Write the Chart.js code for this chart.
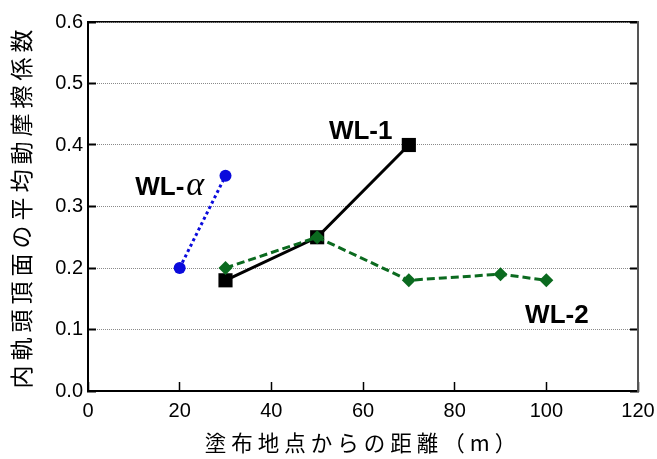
<!DOCTYPE html>
<html>
<head>
<meta charset="utf-8">
<script src="https://cdn.jsdelivr.net/npm/chart.js@4"></script>
<style>
  html, body { margin: 0; padding: 0; background: #fff; }
  canvas { display: block; }
</style>
</head>
<body>
<canvas id="frictionChart" width="657" height="459"></canvas>
<script>
// データ
const distWL2 = [30, 50, 70, 90, 100];
const muWL2 = [0.20, 0.25, 0.18, 0.19, 0.18];

const distWL1 = [30, 50, 70];
const muWL1 = [0.18, 0.25, 0.40];

const distWLa = [20, 30];
const muWLa = [0.20, 0.35];

const yTicks = [0.0, 0.1, 0.2, 0.3, 0.4, 0.5, 0.6];
const xTicks = [0, 20, 40, 60, 80, 100, 120];

// 系列名ラベルの位置（データ座標）
const seriesLabels = [
    { text: 'WL-1', x: 59.5, y: 0.409 },
    { text: 'WL-2', x: 102.3, y: 0.110 },
    { text: 'WL-', greek: 'α', x: 10.3, y: 0.319 }
];

function toPoints(xs, ys) {
    return xs.map(function(x, i) { return { x: x, y: ys[i] }; });
}

// 軸タイトルの字間
const titleSpacing = {
    id: 'titleSpacing',
    beforeDraw(chart) { chart.ctx.letterSpacing = '5px'; },
    beforeDatasetsDraw(chart) { chart.ctx.letterSpacing = '0px'; }
};

// 系列名ラベル
const seriesLabelPlugin = {
    id: 'seriesLabels',
    afterDatasetsDraw(chart) {
        const ctx = chart.ctx;
        const xs = chart.scales.x, ys = chart.scales.y;
        ctx.save();
        ctx.fillStyle = '#000';
        ctx.textBaseline = 'alphabetic';
        seriesLabels.forEach(function(l) {
            const px = xs.getPixelForValue(l.x);
            const py = ys.getPixelForValue(l.y);
            ctx.font = 'bold 26px "Liberation Sans", Arial, sans-serif';
            if (l.greek) {
                ctx.textAlign = 'left';
                ctx.fillText(l.text, px, py);
                const w = ctx.measureText(l.text).width;
                ctx.font = 'italic 34px "Liberation Serif", "Times New Roman", serif';
                ctx.fillText(l.greek, px + w + 2, py);
            } else {
                ctx.textAlign = 'center';
                ctx.fillText(l.text, px, py);
            }
        });
        ctx.restore();
    }
};

const tickFont = { family: '"Liberation Sans", Arial, sans-serif', size: 20 };

function noPad(s) {
    s.paddingLeft = 0;
    s.paddingRight = 0;
    s.paddingTop = 0;
    s.paddingBottom = 0;
}

new Chart(document.getElementById('frictionChart'), {
    type: 'line',
    data: {
        datasets: [{
            label: 'WL-2',
            data: toPoints(distWL2, muWL2),
            borderColor: '#0b6a1f',
            backgroundColor: '#0b6a1f',
            borderWidth: 3,
            borderDash: [8, 4],
            pointStyle: 'rectRot',
            pointRadius: 7,
            pointBorderWidth: 0,
            pointBackgroundColor: '#0b6a1f'
        }, {
            label: 'WL-1',
            data: toPoints(distWL1, muWL1),
            borderColor: '#000',
            backgroundColor: '#000',
            borderWidth: 3,
            pointStyle: 'rect',
            pointRadius: 10,
            pointBorderWidth: 0,
            pointBackgroundColor: '#000'
        }, {
            label: 'WL-α',
            data: toPoints(distWLa, muWLa),
            borderColor: '#0a0adc',
            backgroundColor: '#0a0adc',
            borderWidth: 3,
            borderDash: [3, 3],
            pointStyle: 'circle',
            pointRadius: 6,
            pointBorderWidth: 0,
            pointBackgroundColor: '#0a0adc'
        }]
    },
    options: {
        responsive: false,
        animation: false,
        layout: { padding: 0 },
        plugins: {
            legend: { display: false },
            tooltip: { enabled: false }
        },
        scales: {
            x: {
                type: 'linear',
                position: 'bottom',
                min: xTicks[0],
                max: xTicks[xTicks.length - 1],
                afterBuildTicks: function(s) { s.ticks = xTicks.map(function(v) { return { value: v }; }); },
                afterFit: function(s) { s.height = 68; noPad(s); },
                ticks: { font: tickFont, color: '#000', padding: 17, z: 1 },
                grid: {
                    drawOnChartArea: false,
                    drawTicks: true,
                    tickLength: -9,
                    tickColor: '#000',
                    tickWidth: 1.5
                },
                border: { display: true, color: '#000', width: 2 },
                title: {
                    display: true,
                    text: '塗布地点からの距離（m）',
                    font: { family: '"Noto Sans CJK JP", sans-serif', size: 21.5 },
                    color: '#000',
                    padding: { top: 0, bottom: 3 }
                }
            },
            x2: {
                type: 'linear',
                position: 'top',
                min: xTicks[0],
                max: xTicks[xTicks.length - 1],
                afterFit: function(s) { s.height = 22; noPad(s); },
                ticks: { display: false },
                grid: { drawOnChartArea: false, drawTicks: false },
                border: { display: true, color: '#000', width: 1.5 }
            },
            y: {
                type: 'linear',
                position: 'left',
                min: yTicks[0],
                max: yTicks[yTicks.length - 1],
                afterBuildTicks: function(s) { s.ticks = yTicks.map(function(v) { return { value: v }; }); },
                afterFit: function(s) { s.width = 88; noPad(s); },
                ticks: {
                    font: tickFont,
                    color: '#000',
                    padding: 13,
                    z: 1,
                    callback: function(v) { return Number(v).toFixed(1); }
                },
                grid: {
                    drawOnChartArea: true,
                    color: '#8a8a8a',
                    lineWidth: 1,
                    drawTicks: true,
                    tickLength: -8,
                    tickColor: '#000',
                    tickWidth: 2,
                    tickBorderDash: []
                },
                border: { display: true, color: '#000', width: 2, dash: [1, 1] },
                title: {
                    display: true,
                    text: '内軌頭頂面の平均動摩擦係数',
                    font: { family: '"Noto Sans CJK JP", sans-serif', size: 23 },
                    color: '#000',
                    padding: { top: 7, bottom: 0 }
                }
            },
            y2: {
                type: 'linear',
                position: 'right',
                min: yTicks[0],
                max: yTicks[yTicks.length - 1],
                afterBuildTicks: function(s) { s.ticks = yTicks.map(function(v) { return { value: v }; }); },
                afterFit: function(s) { s.width = 19; noPad(s); },
                ticks: { display: false },
                grid: {
                    drawOnChartArea: false,
                    drawTicks: true,
                    tickLength: -8,
                    tickColor: '#000',
                    tickWidth: 2
                },
                border: { display: true, color: '#555', width: 2 }
            }
        }
    },
    plugins: [titleSpacing, seriesLabelPlugin]
});
</script>
</body>
</html>
